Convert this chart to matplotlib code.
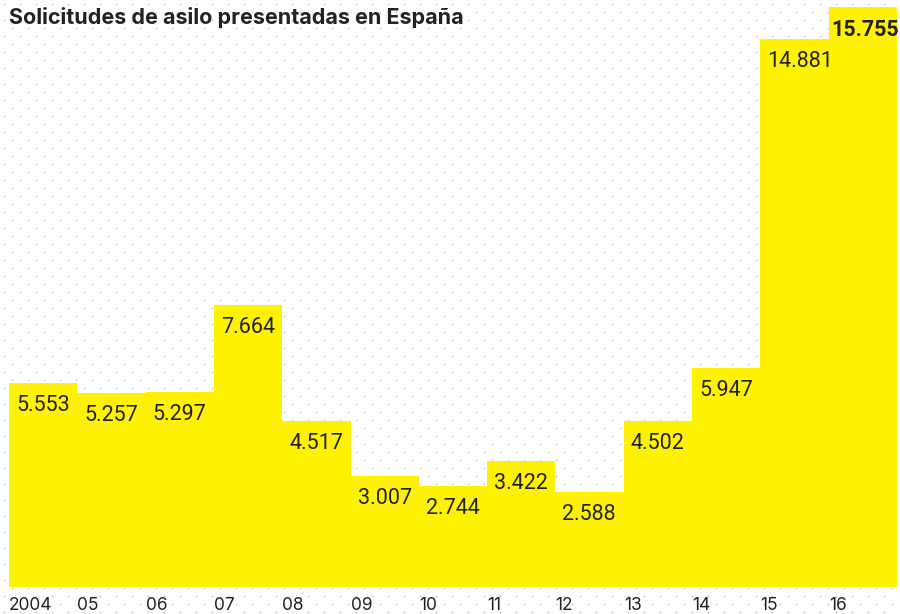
import matplotlib
matplotlib.use("Agg")
import matplotlib.pyplot as plt
import numpy as np

# Solicitudes de asilo presentadas en España, 2004-2016
years = [2004, 2005, 2006, 2007, 2008, 2009, 2010, 2011, 2012, 2013, 2014, 2015, 2016]
year_labels = ["2004", "05", "06", "07", "08", "09", "10", "11", "12", "13", "14", "15", "16"]
requests = [5553, 5257, 5297, 7664, 4517, 3007, 2744, 3422, 2588, 4502, 5947, 14881, 15755]
value_labels = ["5.553", "5.257", "5.297", "7.664", "4.517", "3.007", "2.744",
                "3.422", "2.588", "4.502", "5.947", "14.881", "15.755"]

YELLOW = "#fff200"
INK = "#222222"

fig = plt.figure(figsize=(9, 6.14), dpi=100)
fig.patch.set_facecolor("white")

# dotted paper texture behind everything
bg = fig.add_axes([0, 0, 1, 1], zorder=0)
bg.set_xlim(0, 900)
bg.set_ylim(614, 0)
bg.axis("off")
for i, yy in enumerate(np.arange(4, 614, 8)):
    xs = np.arange(4 + (i % 2) * 8, 900, 16)
    bg.scatter(xs, np.full(len(xs), yy), marker="+", s=3, lw=0.6, color="#cccccc")

ax = fig.add_axes([9 / 900, 27 / 614, 888 / 900, 580 / 614], zorder=1)
ax.patch.set_alpha(0)
x = np.arange(len(years))
ax.bar(x, requests, width=1.0, align="edge", color=YELLOW, linewidth=0)
ax.set_xlim(0, len(years))
ax.set_ylim(0, max(requests))
ax.axis("off")

for i, (v, lab) in enumerate(zip(requests, value_labels)):
    last = i == len(requests) - 1
    ax.annotate(lab, (x[i], v), xytext=(3 if last else 7, -12), textcoords="offset pixels",
                ha="left", va="top", fontsize=15.5, color=INK, family="Roboto",
                fontweight="bold" if last else "normal")

for i, lab in enumerate(year_labels):
    ax.annotate(lab, (x[i], 0), xytext=(0, -18), textcoords="offset pixels",
                ha="left", va="center", fontsize=12.5, color=INK, family="Inter",
                annotation_clip=False)

fig.text(9 / 900, 1 - 7 / 614, "Solicitudes de asilo presentadas en España",
         ha="left", va="top", fontsize=15.5, fontweight="bold", color=INK,
         family="Inter", zorder=3)

fig.savefig("out.png", dpi=100)
